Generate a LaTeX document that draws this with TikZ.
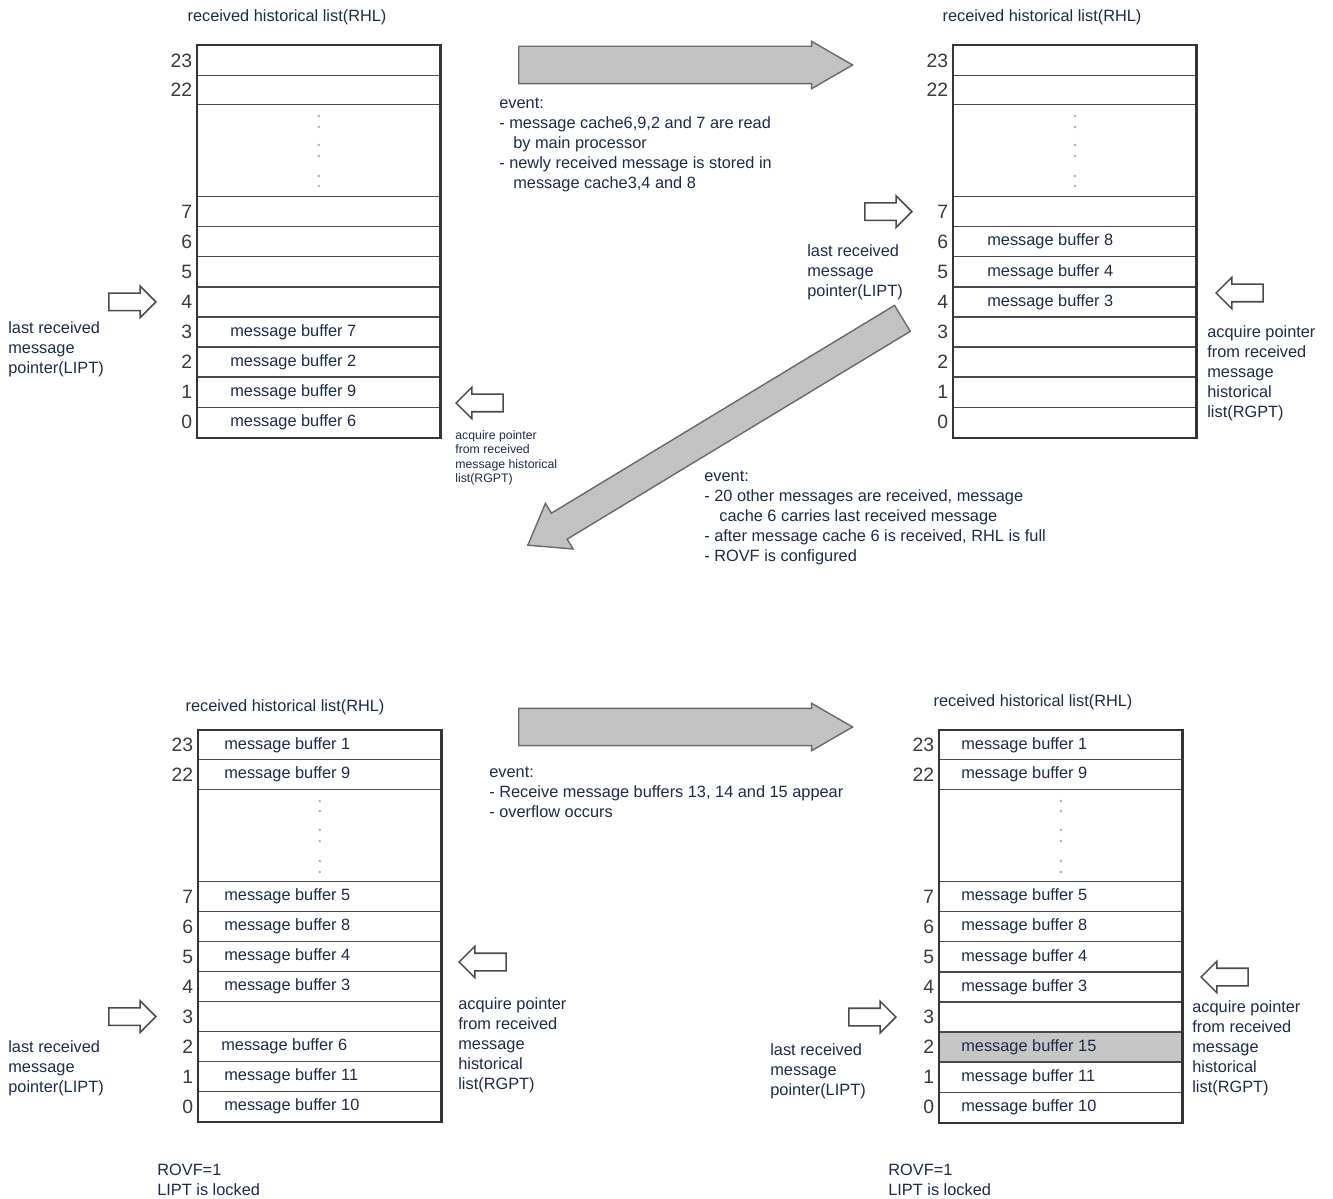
\documentclass[tikz,border=0pt]{standalone}
\usepackage{fontspec}
\setmainfont{Liberation Sans}
\usepackage{tikz}
\usetikzlibrary{positioning,shapes.arrows}
\definecolor{ink}{HTML}{1C2B4A}
\definecolor{numgray}{HTML}{3A3A3A}
\definecolor{rule}{HTML}{4A4A4A}
\definecolor{shade}{HTML}{C6C6C6}
\definecolor{bigfill}{HTML}{C2C2C2}
\definecolor{bigline}{HTML}{6A6A6A}
\tikzset{
    cell/.style={rectangle, draw=rule, line width=0.7pt, fill=white, minimum width=4.85cm, minimum height=0.6cm, inner sep=0pt, anchor=north west},
    frame/.style={draw=rule!70!black, line width=1.4pt},
    num/.style={font=\fontsize{11}{12}\selectfont, text=numgray, inner sep=0pt, xshift=-0.09cm},
    buf/.style={font=\fontsize{9.3}{11.3}\selectfont, text=ink, inner sep=0pt, anchor=west},
    title/.style={font=\fontsize{9.3}{11.3}\selectfont, text=ink, inner sep=0pt},
    note/.style={font=\fontsize{9.3}{11.38}\selectfont, text=ink, align=left, anchor=north west, inner sep=0pt},
    tinynote/.style={font=\fontsize{7}{8.25}\selectfont, text=ink, align=left, anchor=north west, inner sep=0pt},
    bigarrow/.style={single arrow, draw=bigline, fill=bigfill, line width=0.8pt, inner xsep=0pt, anchor=tail},
    ptr/.style={single arrow, draw=rule, fill=white, line width=0.9pt, inner xsep=0pt, inner ysep=0.16cm, minimum height=0.94cm, single arrow head extend=0.14cm},
    gapdot/.style={fill=gray!60}
}

\begin{document}
\begin{tikzpicture}[x=0.02cm, y=-0.02cm]
\useasboundingbox (0,0) rectangle (1333,1199);

% top left list
\node[title] (tltitle) at (287,17) {received historical list(RHL)};
\node[cell, label={[num]left:23}] (tl23) at (197,45) {};
\node[cell, minimum height=0.58cm, label={[num]left:22}] (tl22) at (197,75) {};
\node[cell, minimum height=1.84cm] (tlg) at (197,104) {};
\foreach \n in {7,6,...,0}
    \node[cell, label={[num]left:\n}] (tl\n) at ({197}, {196+(7-\n)*30.1}) {};
\draw[frame] (tl23.north west) rectangle (tl0.south east);
\foreach \d in {12,23,41,52,72,82}
    \fill[gapdot] (tlg.north) ++(0,\d) circle (0.8pt);
\node[buf, right=0.66cm of tl3.west] (tlb3) {message buffer 7};
\node[buf, right=0.66cm of tl2.west] (tlb2) {message buffer 2};
\node[buf, right=0.66cm of tl1.west] (tlb1) {message buffer 9};
\node[buf, right=0.66cm of tl0.west] (tlb0) {message buffer 6};
\node[ptr, left=0.8cm of tl4] (tllipt) {};
\node[note] (tllipttext) at (8,321) {last received\\message\\pointer(LIPT)};
\node[ptr, shape border rotate=180, anchor=tip] (tlrgpt) at (455,403) {};
\node[tinynote] (tlrgpttext) at (455,430) {acquire pointer\\from received\\message historical\\list(RGPT)};

% top right list
\node[title] (trtitle) at (1042,17) {received historical list(RHL)};
\node[cell, label={[num]left:23}] (tr23) at (953,45) {};
\node[cell, minimum height=0.58cm, label={[num]left:22}] (tr22) at (953,75) {};
\node[cell, minimum height=1.84cm] (trg) at (953,104) {};
\foreach \n in {7,6,...,0}
    \node[cell, label={[num]left:\n}] (tr\n) at ({953}, {196+(7-\n)*30.1}) {};
\draw[frame] (tr23.north west) rectangle (tr0.south east);
\foreach \d in {12,23,41,52,72,82}
    \fill[gapdot] (trg.north) ++(0,\d) circle (0.8pt);
\node[buf, right=0.68cm of tr6.west] (trb6) {message buffer 8};
\node[buf, right=0.68cm of tr5.west] (trb5) {message buffer 4};
\node[buf, right=0.68cm of tr4.west] (trb4) {message buffer 3};
\node[ptr, left=0.8cm of tr7] (trlipt) {};
\node[note] (trlipttext) at (807,244) {last received\\message\\pointer(LIPT)};
\node[ptr, shape border rotate=180, anchor=tip] (trrgpt) at (1215,293) {};
\node[note] (trrgpttext) at (1207,325) {acquire pointer\\from received\\message\\historical\\list(RGPT)};

% bottom left list
\node[title] (bltitle) at (285,707) {received historical list(RHL)};
\node[cell, minimum height=0.58cm, label={[num]left:23}] (bl23) at (198,730) {};
\node[cell, label={[num]left:22}] (bl22) at (198,759) {};
\node[cell, minimum height=1.84cm] (blg) at (198,789) {};
\foreach \n in {7,6,...,0}
    \node[cell, label={[num]left:\n}] (bl\n) at ({198}, {881+(7-\n)*30}) {};
\draw[frame] (bl23.north west) rectangle (bl0.south east);
\foreach \d in {12,22,41,52,72,83}
    \fill[gapdot] (blg.north) ++(0,\d) circle (0.8pt);
\node[buf, right=0.52cm of bl23.west] (blb23) {message buffer 1};
\node[buf, right=0.52cm of bl22.west] (blb22) {message buffer 9};
\node[buf, right=0.52cm of bl7.west] (blb7) {message buffer 5};
\node[buf, right=0.52cm of bl6.west] (blb6) {message buffer 8};
\node[buf, right=0.52cm of bl5.west] (blb5) {message buffer 4};
\node[buf, right=0.52cm of bl4.west] (blb4) {message buffer 3};
\node[buf, right=0.46cm of bl2.west] (blb2) {message buffer 6};
\node[buf, right=0.52cm of bl1.west] (blb1) {message buffer 11};
\node[buf, right=0.52cm of bl0.west] (blb0) {message buffer 10};
\node[ptr, left=0.82cm of bl3] (bllipt) {};
\node[note] (bllipttext) at (8,1040) {last received\\message\\pointer(LIPT)};
\node[ptr, shape border rotate=180, anchor=tip] (blrgpt) at (458,962) {};
\node[note] (blrgpttext) at (458,997) {acquire pointer\\from received\\message\\historical\\list(RGPT)};
\node[note] (blrovf) at (157,1164) {ROVF=1\\LIPT is locked};

% bottom right list
\node[title] (brtitle) at (1033,702) {received historical list(RHL)};
\node[cell, minimum height=0.58cm, label={[num]left:23}] (br23) at (939,730) {};
\node[cell, label={[num]left:22}] (br22) at (939,759) {};
\node[cell, minimum height=1.84cm] (brg) at (939,789) {};
\foreach \n/\f in {7/white,6/white,5/white,4/white,3/white,2/shade,1/white,0/white}
    \node[cell, fill=\f, label={[num]left:\n}] (br\n) at ({939}, {881+(7-\n)*30.1}) {};
\draw[frame] (br23.north west) rectangle (br0.south east);
\foreach \d in {12,22,41,52,72,83}
    \fill[gapdot] (brg.north) ++(0,\d) circle (0.8pt);
\node[buf, right=0.44cm of br23.west] (brb23) {message buffer 1};
\node[buf, right=0.44cm of br22.west] (brb22) {message buffer 9};
\node[buf, right=0.44cm of br7.west] (brb7) {message buffer 5};
\node[buf, right=0.44cm of br6.west] (brb6) {message buffer 8};
\node[buf, right=0.44cm of br5.west] (brb5) {message buffer 4};
\node[buf, right=0.44cm of br4.west] (brb4) {message buffer 3};
\node[buf, right=0.44cm of br2.west] (brb2) {message buffer 15};
\node[buf, right=0.44cm of br1.west] (brb1) {message buffer 11};
\node[buf, right=0.44cm of br0.west] (brb0) {message buffer 10};
\node[ptr, left=0.84cm of br3] (brlipt) {};
\node[note] (brlipttext) at (770,1043) {last received\\message\\pointer(LIPT)};
\node[ptr, shape border rotate=180, anchor=tip] (brrgpt) at (1200,977) {};
\node[note] (brrgpttext) at (1192,1000) {acquire pointer\\from received\\message\\historical\\list(RGPT)};
\node[note] (brrovf) at (888,1164) {ROVF=1\\LIPT is locked};

% transitions
\node[bigarrow, minimum height=6.68cm, inner ysep=0.36cm, single arrow head extend=0.1cm, single arrow tip angle=60] (step1) at (518,65) {};
\node[note] (ev1) at (499,98) {event:\\- message cache6,9,2 and 7 are read\\\hspace*{0.28cm}by main processor\\- newly received message is stored in\\\hspace*{0.28cm}message cache3,4 and 8};
\node[bigarrow, minimum height=8.76cm, inner ysep=0.29cm, single arrow head extend=0.23cm, single arrow tip angle=72, rotate=211.2] (step2) at (903,318) {};
\node[note] (ev2) at (704,471) {event:\\- 20 other messages are received, message\\\hspace*{0.3cm}cache 6 carries last received message\\- after message cache 6 is received, RHL is full\\- ROVF is configured};
\node[bigarrow, minimum height=6.68cm, inner ysep=0.36cm, single arrow head extend=0.1cm, single arrow tip angle=60] (step3) at (518,727) {};
\node[note] (ev3) at (489,767) {event:\\- Receive message buffers 13, 14 and 15 appear\\- overflow occurs};

\end{tikzpicture}
\end{document}
